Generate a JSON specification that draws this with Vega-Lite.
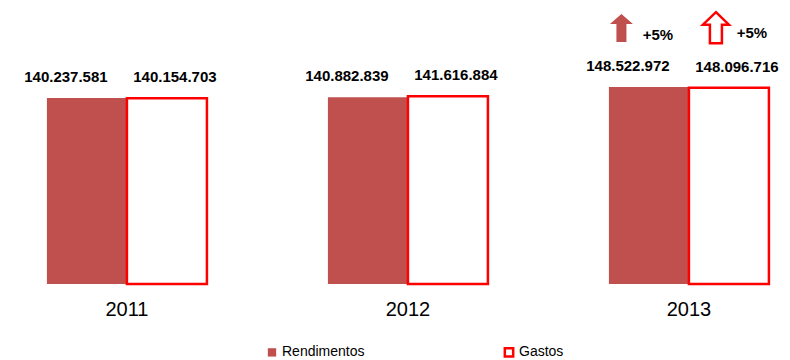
{
  "$schema": "https://vega.github.io/schema/vega-lite/v6.json",
  "width": 790,
  "height": 212,
  "autosize": {"type": "none"},
  "padding": {"top": 72, "bottom": 76, "left": 0, "right": 0},
  "background": "white",
  "config": {
    "view": {"stroke": null},
    "font": "Liberation Sans",
    "locale": {"number": {"decimal": ",", "thousands": ".", "grouping": [3], "currency": ["", " €"]}}
  },
  "data": {
    "values": [
      {"year": "2011", "series": "Rendimentos", "value": 140237581, "change": null},
      {"year": "2012", "series": "Rendimentos", "value": 140882839, "change": null},
      {"year": "2013", "series": "Rendimentos", "value": 148522972, "change": "+5%"},
      {"year": "2011", "series": "Gastos", "value": 140154703, "change": null},
      {"year": "2012", "series": "Gastos", "value": 141616884, "change": null},
      {"year": "2013", "series": "Gastos", "value": 148096716, "change": "+5%"}
    ]
  },
  "encoding": {
    "x": {
      "field": "year", "type": "nominal",
      "scale": {"paddingInner": 0.4306, "paddingOuter": 0.121, "align": 0.69},
      "axis": {"title": null, "labelAngle": 0, "domain": false, "ticks": false, "labelFontSize": 20, "labelPadding": 15, "labelColor": "#000", "labelFont": "Liberation Sans"}
    },
    "xOffset": {"field": "series", "type": "nominal", "scale": {"domain": ["Rendimentos", "Gastos"], "paddingInner": 0, "paddingOuter": 0}},
    "y": {"field": "value", "type": "quantitative", "scale": {"domain": [0, 159900000], "nice": false, "zero": true}, "axis": null}
  },
  "layer": [
    {
      "mark": {"type": "bar", "strokeWidth": 2.5},
      "encoding": {
        "fill": {
          "field": "series", "type": "nominal",
          "scale": {"domain": ["Rendimentos", "Gastos"], "range": ["#C0504D", "#FFFFFF"]},
          "legend": {
            "title": null, "orient": "none", "direction": "horizontal", "legendX": 265, "legendY": 273,
            "padding": 0, "symbolSize": 70, "symbolStrokeWidth": 2.5, "symbolType": "square",
            "labelFontSize": 14, "labelColor": "#000", "labelOffset": 3, "columnPadding": 134, "labelFont": "Liberation Sans"
          }
        },
        "stroke": {
          "field": "series", "type": "nominal",
          "scale": {"domain": ["Rendimentos", "Gastos"], "range": ["transparent", "#FF0000"]}
        }
      }
    },
    {
      "transform": [{"filter": "datum.series === 'Rendimentos'"}],
      "mark": {"type": "text", "fontSize": 15, "fontWeight": "bold", "color": "#000", "baseline": "alphabetic", "dy": -16, "dx": -21},
      "encoding": {"text": {"field": "value", "type": "quantitative", "format": ",d"}}
    },
    {
      "transform": [{"filter": "datum.series === 'Gastos'"}],
      "mark": {"type": "text", "fontSize": 15, "fontWeight": "bold", "color": "#000", "baseline": "alphabetic", "dy": -16, "dx": 8},
      "encoding": {"text": {"field": "value", "type": "quantitative", "format": ",d"}}
    },
    {
      "transform": [{"filter": "datum.change && datum.series === 'Rendimentos'"}],
      "mark": {"type": "point", "filled": true, "size": 400, "fill": "#C0504D", "stroke": null, "opacity": 1,
        "shape": "M -2.75 -7.3 L -1.6 -6.3 L -2.25 -6.3 L -2.25 -4.5 L -3.25 -4.5 L -3.25 -6.3 L -3.9 -6.3 Z"},
      "encoding": {}
    },
    {
      "transform": [{"filter": "datum.change && datum.series === 'Gastos'"}],
      "mark": {"type": "point", "filled": false, "size": 400, "fill": "#FFFFFF", "fillOpacity": 1, "stroke": "#FF0000", "strokeWidth": 2.5, "opacity": 1,
        "shape": "M -1.3 -7.55 L 0 -6.3 L -0.7 -6.3 L -0.7 -4.45 L -1.9 -4.45 L -1.9 -6.3 L -2.6 -6.3 Z"},
      "encoding": {}
    },
    {
      "transform": [{"filter": "datum.change && datum.series === 'Rendimentos'"}],
      "mark": {"type": "text", "fontSize": 15, "fontWeight": "bold", "color": "#000", "baseline": "alphabetic", "dy": -47, "dx": 9},
      "encoding": {"text": {"field": "change"}}
    },
    {
      "transform": [{"filter": "datum.change && datum.series === 'Gastos'"}],
      "mark": {"type": "text", "fontSize": 15, "fontWeight": "bold", "color": "#000", "baseline": "alphabetic", "dy": -50, "dx": 23},
      "encoding": {"text": {"field": "change"}}
    }
  ]
}
